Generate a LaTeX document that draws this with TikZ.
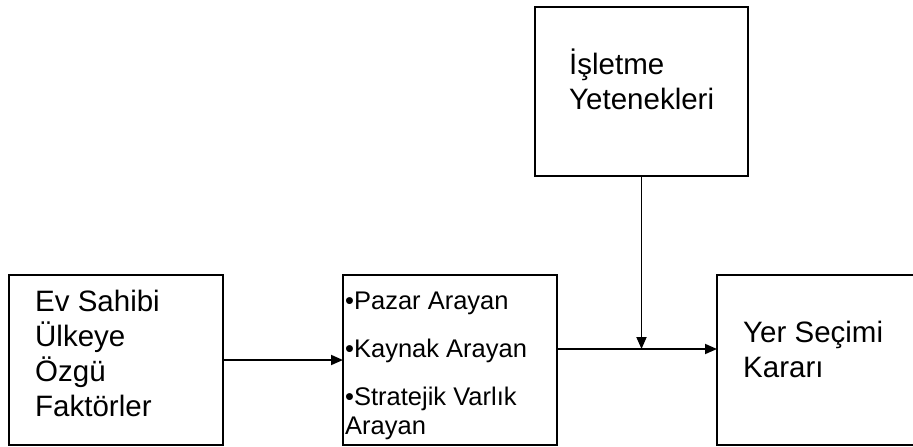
\documentclass[tikz,border=0pt]{standalone}
\usepackage{fontspec}
\setmainfont{Liberation Sans}
\usetikzlibrary{arrows.meta,positioning}

\begin{document}
\begin{tikzpicture}[
  x=1pt, y=-1pt,
  box/.style={draw, line width=1.8pt, minimum width=214pt, minimum height=170pt, inner sep=0pt, outer sep=0pt, anchor=north west},
  txt/.style={align=left, inner sep=0pt, font=\fontsize{29.5}{35}\selectfont},
  arr/.style={-{Triangle[length=12pt,width=10pt]}, line width=1.8pt}
]
  \useasboundingbox (0,0) rectangle (913,447);
  \clip (0,0) rectangle (913,447);

  \node[box] (ev) at (9,275) {};
  \node[box] (motiv) at (343,275) {};
  \node[box, minimum width=213pt, minimum height=169pt] (isl) at (535,7) {};
  \node[box, minimum width=260pt] (yer) at (717,275) {};

  \node[txt, below right=15pt and 26pt of ev.north west] (evtxt) {Ev Sahibi\\Ülkeye\\Özgü\\Faktörler};
  \node[txt, font=\fontsize{25.5}{29}\selectfont, below right=17pt and 2pt of motiv.north west] (motivtxt) {•Pazar Arayan\\[19pt]•Kaynak Arayan\\[19pt]•Stratejik Varlık\\Arayan};
  \node[txt, below right=42pt and 34pt of isl.north west] (isltxt) {İşletme\\Yetenekleri};
  \node[txt, below right=46pt and 26pt of yer.north west] (yertxt) {Yer Seçimi\\Kararı};

  \coordinate (join) at (641.5,349);

  \draw[arr] (ev.east) -- (motiv.west);
  \draw[arr] (isl.south) -- (join);
  \draw[arr] (join -| motiv.east) -- (join -| yer.west);
\end{tikzpicture}
\end{document}
